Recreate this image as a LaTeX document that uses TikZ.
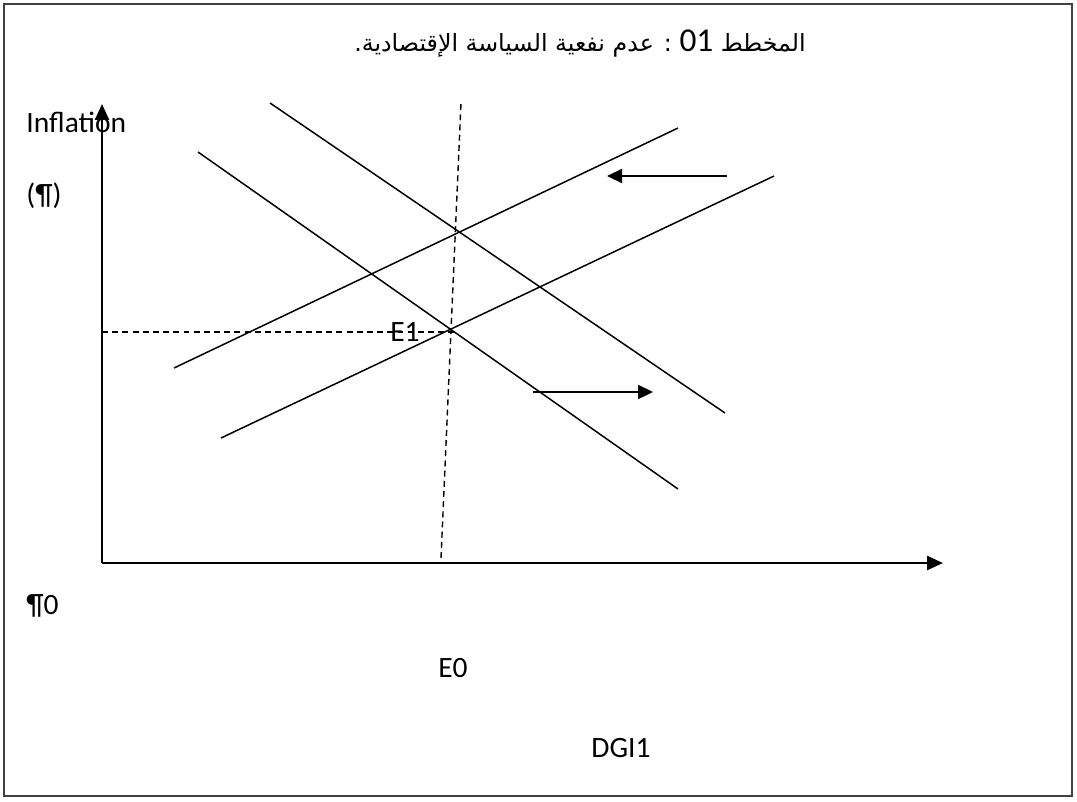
\documentclass[tikz,border=0pt]{standalone}
\usepackage{fontspec}
\setmainfont{Carlito}
\newfontfamily\arabicfont[Script=Arabic]{DejaVu Sans}
\TeXXeTstate=1
\usepackage{tikz}
\usetikzlibrary{arrows.meta}

\begin{document}
\begin{tikzpicture}[
    x=0.02cm, y=-0.02cm,
    curve/.style={line width=0.85pt, black},
    guide/.style={line width=0.8pt, black, dash pattern=on 3.4pt off 2.4pt},
    axis/.style={line width=1.4pt, black, -{Triangle[length=3.2mm, width=2.8mm]}},
    shiftarrow/.style={line width=1.3pt, black, -{Triangle[length=3mm, width=2.8mm]}},
    lbl/.style={font=\fontsize{16.8}{19}\selectfont, inner sep=0pt}
  ]
    % Outer Frame
    \useasboundingbox (0,0) rectangle (1077,801);
    \draw[draw=black!75, line width=0.9pt] (4,4) rectangle (1072,796);

    % Title
    \node[lbl, font=\arabicfont\fontsize{13.5}{18}\selectfont] (title) at (580,44)
      {\beginR المخطط \beginL{\rmfamily\fontsize{19}{19}\selectfont 01}\endL{} : عدم نفعية السياسة الإقتصادية.\endR};

    % Axes
    \coordinate (origin) at (102,563);
    \coordinate (ytop) at (102,104);
    \coordinate (xend) at (943,563);
    \draw[axis] (origin) -- (ytop);
    \draw[axis] (origin) -- (xend);

    % Demand lines
    \coordinate (d1a) at (198,152);
    \coordinate (d1b) at (678,489);
    \coordinate (d2a) at (270,103);
    \coordinate (d2b) at (725,413);
    \draw[curve] (d1a) -- (d1b);
    \draw[curve] (d2a) -- (d2b);

    % Supply lines
    \coordinate (s1a) at (174,368);
    \coordinate (s1b) at (678,128);
    \coordinate (s2a) at (221,438);
    \coordinate (s2b) at (774,176);
    \draw[curve] (s1a) -- (s1b);
    \draw[curve] (s2a) -- (s2b);

    % Dashed guides
    \coordinate (vlow) at (441,558);
    \coordinate (vtop) at (461,103);
    \coordinate (hleft) at (102,332);
    \coordinate (hright) at (454,332);
    \draw[guide] (vlow) -- (vtop);
    \draw[guide] (hleft) -- (hright);

    % Shift arrows
    \coordinate (la) at (727,176);
    \coordinate (lb) at (607,176);
    \coordinate (ra) at (533,392);
    \coordinate (rb) at (653,392);
    \draw[shiftarrow] (la) -- (lb);
    \draw[shiftarrow] (ra) -- (rb);

    % Labels
    \node[lbl, anchor=west] (infl) at (26,122) {Inflation};
    \node[lbl, anchor=west] (pilcrow) at (26,196) {(¶)};
    \node[lbl, anchor=west] (pzero) at (26,606) {¶0};
    \node[lbl] (e1) at (405,332) {E1};
    \node[lbl] (e0) at (453,668) {E0};
    \node[lbl] (dgi) at (621,748) {DGI1};
  \end{tikzpicture}
\end{document}
